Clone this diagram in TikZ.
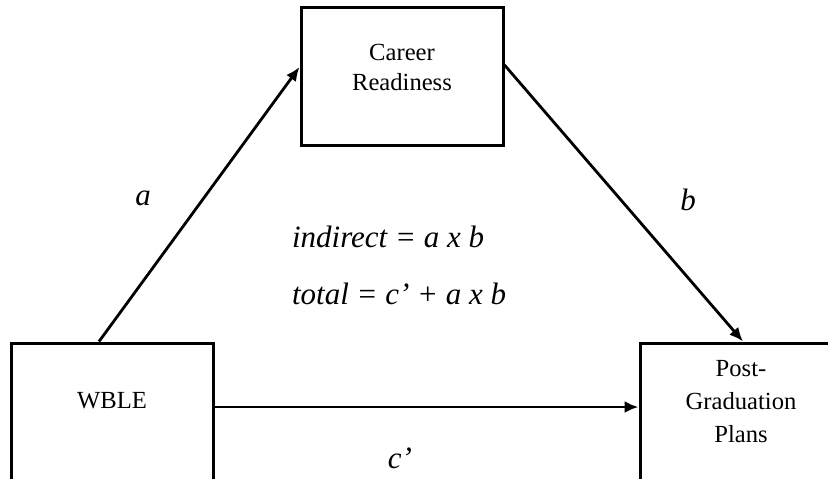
\documentclass[tikz,border=0pt]{standalone}
\usepackage{fontspec}
\setmainfont{Liberation Serif}
\usetikzlibrary{arrows.meta, positioning, calc}

\begin{document}
\begin{tikzpicture}[
    x=0.5pt, y=-0.5pt,
    >={Latex[length=7pt, width=6pt]},
    box/.style={
        rectangle, draw=black, line width=1.5pt,
        minimum width=101pt, minimum height=69pt, inner sep=0pt
    },
    boxtext/.style={font=\fontsize{12.3}{15}\selectfont, align=center},
    path/.style={->, line width=1.4pt},
    plabel/.style={font=\fontsize{15.5}{18}\selectfont\itshape},
]
\useasboundingbox (0,0) rectangle (828,478);

% --- Coordinates -------------------------------------------------------------
\coordinate (crc) at (402, 76);
\coordinate (wbc) at (112,412);
\coordinate (pgc) at (741,412);

% --- Boxes --------------------------------------------------------------------
\node[box] (career) at (crc) {};
\node[boxtext] at ([yshift=4.5pt]career.center) {Career\\Readiness};

\node[box] (wble) at (wbc) {};
\node[boxtext] at ([yshift=5.5pt]wble.center) {WBLE};

\node[box] (post) at (pgc) {};
\node[boxtext] at ([yshift=5pt]post.center) {Post-\\[1.5pt]Graduation\\[1.5pt]Plans};

% --- Paths --------------------------------------------------------------------
\draw[path] ([xshift=-6.5pt]wble.north) -- ([yshift=4.5pt]career.west);
\draw[path] ([yshift=5.5pt]career.east) -- ([xshift=1pt]post.north);
\draw[path] ([yshift=2.5pt]wble.east) -- ([yshift=2.5pt]post.west);

% --- Path labels --------------------------------------------------------------
\node[plabel] (la) at (143,198) {a};
\node[plabel] (lb) at (688,200) {b};
\node[plabel] (lc) at (400,458) {c’};

% --- Effects ------------------------------------------------------------------
\node[plabel, anchor=west] (ind) at (285,237) {indirect = a x b};
\node[plabel, anchor=west] (tot) at (285,294) {total = c’ + a x b};

\end{tikzpicture}
\end{document}
